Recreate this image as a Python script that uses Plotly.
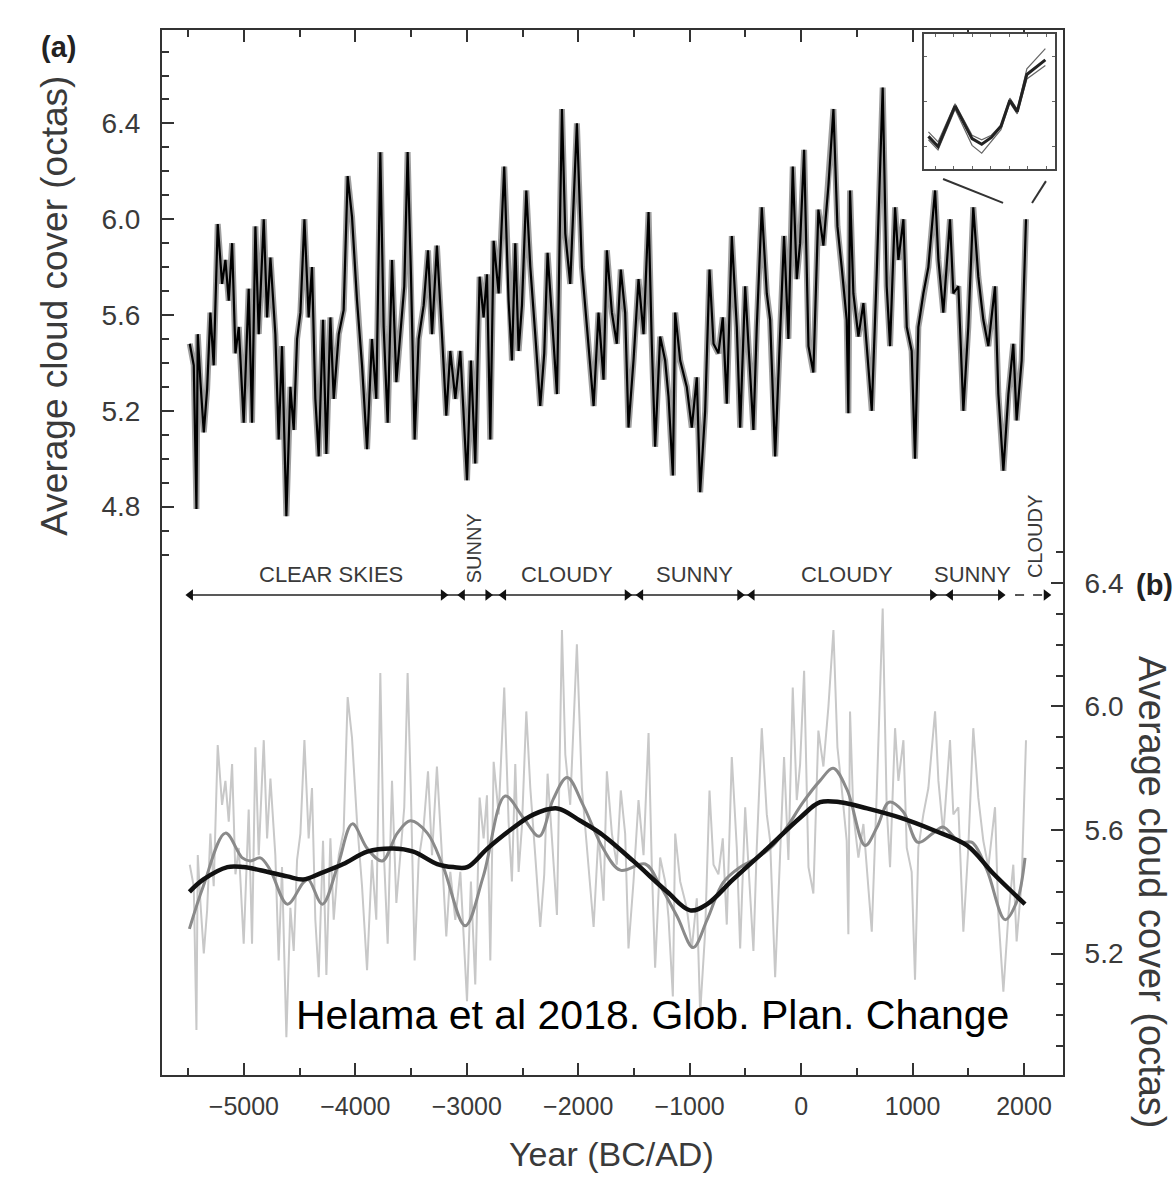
import plotly.graph_objects as go

# ---------------- data ----------------
years_top = [-5486, -5450, -5426, -5414, -5390, -5360, -5330, -5301, -5271, -5235, -5196, -5166, -5136, -5106,
             -5076, -5046, -5002, -4957, -4927, -4897, -4867, -4822, -4792, -4762, -4718, -4688, -4658, -4619,
             -4583, -4553, -4523, -4493, -4457, -4419, -4389, -4359, -4329, -4290, -4260, -4224, -4194, -4149,
             -4105, -4069, -4030, -3985, -3940, -3895, -3851, -3812, -3776, -3746, -3710, -3671, -3632, -3596,
             -3561, -3531, -3501, -3468, -3432, -3387, -3348, -3312, -3268, -3223, -3184, -3148, -3103, -3058,
             -3028, -2998, -2963, -2924, -2885, -2849, -2819, -2789, -2759, -2714, -2664, -2625, -2595, -2565,
             -2535, -2505, -2466, -2430, -2386, -2341, -2305, -2275, -2236, -2191, -2146, -2116, -2072, -2012,
             -1967, -1916, -1862, -1818,
             -1773, -1743, -1698, -1654, -1618, -1579, -1549, -1504, -1459, -1414, -1369, -1340, -1310, -1265,
             -1220, -1190, -1151, -1130, -1085, -1026, -981, -936, -906, -861, -822, -786, -742, -703, -667,
             -622, -577, -547, -502, -473, -428, -398, -353, -308, -278, -233, -189, -153, -114, -75, -39, -9,
             27, 66, 110, 155, 200, 245, 290, 326, 364, 409, 424, 439, 469, 514, 559, 589, 634, 678, 732, 768,
             798, 843, 873, 918, 948, 992, 1022, 1052, 1097, 1142, 1202, 1232, 1276, 1336, 1366, 1411, 1456,
             1500, 1545, 1590, 1635, 1680, 1740, 1770, 1815, 1860, 1904, 1934, 1979, 2018]
cloud_top = [5.48, 5.39, 4.79, 5.52, 5.32, 5.11, 5.29, 5.61, 5.39, 5.98, 5.73, 5.83, 5.66, 5.90,
             5.44, 5.55, 5.15, 5.71, 5.15, 5.97, 5.52, 6.00, 5.59, 5.84, 5.52, 5.08, 5.47, 4.76,
             5.30, 5.12, 5.50, 5.61, 6.00, 5.59, 5.80, 5.25, 5.01, 5.58, 5.02, 5.59, 5.25, 5.52,
             5.62, 6.18, 6.01, 5.66, 5.39, 5.04, 5.50, 5.25, 6.28, 5.55, 5.15, 5.83, 5.32, 5.52,
             5.72, 6.28, 5.77, 5.08, 5.50, 5.64, 5.87, 5.52, 5.89, 5.52, 5.18, 5.45, 5.25, 5.45,
             5.15, 4.91, 5.41, 4.98, 5.76, 5.59, 5.77, 5.08, 5.91, 5.69, 6.22, 5.66, 5.41, 5.90,
             5.45, 5.64, 6.12, 5.80, 5.52, 5.22, 5.44, 5.86, 5.59, 5.27, 6.46, 5.94, 5.73, 6.40,
             5.80, 5.52, 5.22, 5.61,
             5.33, 5.87, 5.61, 5.48, 5.79, 5.61, 5.13, 5.41, 5.75, 5.52, 6.03, 5.48, 5.05, 5.51,
             5.41, 5.26, 4.93, 5.61, 5.41, 5.30, 5.13, 5.34, 4.86, 5.20, 5.79, 5.48, 5.44, 5.59, 5.23,
             5.93, 5.55, 5.13, 5.72, 5.48, 5.12, 5.55, 6.05, 5.69, 5.58, 5.01, 5.51, 5.93, 5.50, 6.22, 5.75, 5.90,
             6.29, 5.47, 5.36, 6.04, 5.89, 6.14, 6.46, 5.97, 5.80, 5.58, 5.19, 6.12, 5.69, 5.51, 5.65, 5.48, 5.20, 5.77, 6.55, 5.72,
             5.47, 6.05, 5.83, 6.00, 5.55, 5.45, 5.00, 5.55, 5.69, 5.80, 6.12, 5.83, 5.61, 6.00, 5.69, 5.72, 5.20,
             5.55, 6.05, 5.76, 5.58, 5.47, 5.72, 5.27, 4.95, 5.27, 5.48, 5.16, 5.41, 6.00]

smooth_years = [-5489, -5363, -5166, -5014, -4942, -4852, -4763, -4610, -4467, -4422, -4296, -4162, -4027,
                -3893, -3758, -3623, -3507, -3354, -3211, -3014, -2852, -2655, -2493, -2350, -2224, -2099,
                -1955, -1776, -1623, -1399, -1265, -1112, -969, -843, -700, -547, -395, -251, -126, 18, 170,
                287, 413, 574, 682, 789, 915, 1049, 1184, 1274, 1426, 1534, 1668, 1830, 1937, 2009]
smooth_cloud = [5.28, 5.42, 5.59, 5.51, 5.50, 5.51, 5.47, 5.36, 5.43, 5.44, 5.36, 5.48, 5.62,
                5.54, 5.50, 5.59, 5.63, 5.59, 5.48, 5.29, 5.45, 5.71, 5.64, 5.58, 5.70, 5.77,
                5.68, 5.54, 5.47, 5.49, 5.42, 5.32, 5.22, 5.31, 5.43, 5.48, 5.51, 5.55, 5.61, 5.69, 5.76,
                5.80, 5.73, 5.55, 5.61, 5.69, 5.66, 5.56, 5.59, 5.61, 5.56, 5.56, 5.47, 5.31, 5.37, 5.51]

trend_years = [-5489, -5363, -5148, -5005, -4852, -4610, -4467, -4314, -4108, -3893, -3659, -3480, -3265,
               -3121, -2996, -2816, -2610, -2404, -2188, -1982, -1803, -1507, -1202, -996, -843, -610, -305,
               -9, 170, 350, 592, 888, 1184, 1489, 1722, 2009]
trend_cloud = [5.40, 5.44, 5.48, 5.48, 5.47, 5.45, 5.44, 5.46, 5.49, 5.53, 5.54, 5.53, 5.49,
               5.48, 5.48, 5.54, 5.60, 5.65, 5.67, 5.63, 5.59, 5.50, 5.40, 5.34, 5.36, 5.44, 5.54,
               5.64, 5.69, 5.69, 5.67, 5.64, 5.60, 5.55, 5.46, 5.36]

inset_years = [1841, 1854, 1877, 1900, 1913, 1926, 1939, 1951, 1961, 1974, 1999]
inset_mean = [5.29, 5.20, 5.56, 5.27, 5.22, 5.28, 5.38, 5.61, 5.51, 5.84, 5.97]
inset_upper = [5.33, 5.24, 5.58, 5.30, 5.26, 5.30, 5.39, 5.63, 5.53, 5.89, 6.07]
inset_lower = [5.26, 5.17, 5.53, 5.21, 5.14, 5.24, 5.35, 5.59, 5.49, 5.80, 5.92]

period_names = ["CLEAR SKIES", "SUNNY", "CLOUDY", "SUNNY", "CLOUDY", "SUNNY", "CLOUDY"]
period_start = [-5480, -3040, -2670, -1440, -440, 1340, 1920]
period_end = [-3210, -2810, -1560, -550, 1180, 1790, 2200]
period_label_x = [-4215, -2933, -2099, -960, 413, 1534, 2099]
period_vertical = [False, True, False, False, False, False, True]

x_major = [-5000, -4000, -3000, -2000, -1000, 0, 1000, 2000]
left_major = [4.8, 5.2, 5.6, 6.0, 6.4]
left_minor = [4.6, 4.7, 4.9, 5.0, 5.1, 5.3, 5.4, 5.5, 5.7, 5.8, 5.9, 6.1, 6.2, 6.3, 6.5, 6.6, 6.7]
right_major = [5.2, 5.6, 6.0, 6.4]
right_minor = [4.9, 5.0, 5.1, 5.3, 5.4, 5.5, 5.7, 5.8, 5.9, 6.1, 6.2, 6.3, 6.5]

# ---------------- styling constants ----------------
FONT = "Liberation Sans, Arial, Helvetica, sans-serif"
AXC = "#333333"
TXT = "#3a3a3a"
ARROW_Y = 4.431      # left-axis units, row of period arrows
LABEL_Y = 4.515
VLABEL_Y = {"SUNNY": 4.627, "CLOUDY": 4.673}

fig = go.Figure()

# (a) ensemble reconstruction
fig.add_trace(go.Scatter(x=years_top, y=cloud_top, mode="lines",
                         line=dict(color="rgba(0,0,0,0.38)", width=6), hoverinfo="skip",
                         xaxis="x", yaxis="y", showlegend=False))
fig.add_trace(go.Scatter(x=years_top, y=cloud_top, mode="lines",
                         line=dict(color="#000000", width=2.2),
                         xaxis="x", yaxis="y", showlegend=False))

# (b) raw series (same record, drawn in the lower panel)
fig.add_trace(go.Scatter(x=years_top, y=cloud_top, mode="lines",
                         line=dict(color="#c8c8c8", width=2),
                         xaxis="x", yaxis="y2", showlegend=False))
# (b) smoothed curves on the right axis
fig.add_trace(go.Scatter(x=smooth_years, y=smooth_cloud, mode="lines",
                         line=dict(color="#8a8a8a", width=3, shape="spline", smoothing=1.0),
                         xaxis="x", yaxis="y3", showlegend=False))
fig.add_trace(go.Scatter(x=trend_years, y=trend_cloud, mode="lines",
                         line=dict(color="#111111", width=4.5, shape="spline", smoothing=1.0),
                         xaxis="x", yaxis="y3", showlegend=False))

# period arrows row
solid_x = [period_start[0], period_end[-2]]
fig.add_trace(go.Scatter(x=solid_x, y=[ARROW_Y, ARROW_Y], mode="lines",
                         line=dict(color="#222222", width=1.6), xaxis="x", yaxis="y", showlegend=False))
fig.add_trace(go.Scatter(x=[period_start[-1], period_end[-1]], y=[ARROW_Y, ARROW_Y], mode="lines",
                         line=dict(color="#222222", width=1.6, dash="dash"), xaxis="x", yaxis="y",
                         showlegend=False))
fig.add_trace(go.Scatter(x=period_start[:-1], y=[ARROW_Y] * (len(period_start) - 1), mode="markers",
                         marker=dict(symbol="triangle-left", size=10, color="#111111"),
                         xaxis="x", yaxis="y", showlegend=False))
fig.add_trace(go.Scatter(x=period_end, y=[ARROW_Y] * len(period_end), mode="markers",
                         marker=dict(symbol="triangle-right", size=10, color="#111111"),
                         xaxis="x", yaxis="y", showlegend=False))

# inset
fig.add_trace(go.Scatter(x=inset_years, y=inset_upper, mode="lines",
                         line=dict(color="#666666", width=1.2), xaxis="x2", yaxis="y4", showlegend=False))
fig.add_trace(go.Scatter(x=inset_years, y=inset_lower, mode="lines",
                         line=dict(color="#666666", width=1.2), xaxis="x2", yaxis="y4", showlegend=False))
fig.add_trace(go.Scatter(x=inset_years, y=inset_mean, mode="lines",
                         line=dict(color="#222222", width=3), xaxis="x2", yaxis="y4", showlegend=False))

annotations = []
for name, lx, vert in zip(period_names, period_label_x, period_vertical):
    if vert:
        annotations.append(dict(x=lx, y=VLABEL_Y[name], xref="x", yref="y", text=name, showarrow=False,
                                xanchor="center", yanchor="middle",
                                textangle=-90, font=dict(size=20, color=TXT, family=FONT)))
    else:
        annotations.append(dict(x=lx, y=LABEL_Y, xref="x", yref="y", text=name, showarrow=False,
                                xanchor="center", yanchor="middle",
                                font=dict(size=22, color=TXT, family=FONT)))

annotations += [
    dict(x=-0.115, y=0.984, xref="paper", yref="paper", xanchor="center", yanchor="middle",
         text="<b>(a)</b>", showarrow=False, font=dict(size=29, color="#222222", family=FONT)),
    dict(x=1.079, y=0.469, xref="paper", yref="paper", xanchor="left", yanchor="middle",
         text="<b>(b)</b>", showarrow=False, font=dict(size=29, color="#222222", family=FONT)),
    dict(x=-0.119, y=0.736, xref="paper", yref="paper", xanchor="center", yanchor="middle",
         text="Average cloud cover (octas)", showarrow=False, textangle=-90,
         font=dict(size=37, color=TXT, family=FONT)),
    dict(x=1.0988, y=0.175, xref="paper", yref="paper", xanchor="center", yanchor="middle",
         text="Average cloud cover (octas)", showarrow=False, textangle=90,
         font=dict(size=38, color=TXT, family=FONT)),
    dict(x=0.4994, y=-0.0755, xref="paper", yref="paper", xanchor="center", yanchor="middle",
         text="Year (BC/AD)", showarrow=False, font=dict(size=34, color=TXT, family=FONT)),
    dict(x=0.544, y=0.0574, xref="paper", yref="paper", xanchor="center", yanchor="middle",
         text="Helama et al 2018. Glob. Plan. Change", showarrow=False,
         font=dict(size=41, color="#000000", family=FONT)),
]

shapes = [
    dict(type="line", xref="x", yref="y", x0=1274, y0=6.168, x1=1812, y1=6.068,
         line=dict(color="#333333", width=2)),
    dict(type="line", xref="x", yref="y", x0=2197, y0=6.159, x1=2072, y1=6.068,
         line=dict(color="#333333", width=2)),
]

fig.update_layout(
    width=1173, height=1177,
    margin=dict(l=162, r=110, t=30, b=102),
    paper_bgcolor="white", plot_bgcolor="white",
    font=dict(family=FONT, color=TXT),
    showlegend=False,
    annotations=annotations,
    shapes=shapes,
    xaxis=dict(range=[-5735, 2350], domain=[0, 1], anchor="y", showgrid=False, zeroline=False,
               showline=True, linecolor=AXC, linewidth=2, mirror="ticks",
               tickmode="array", tickvals=x_major, ticks="inside", ticklen=12, tickwidth=2, tickcolor=AXC,
               minor=dict(dtick=500, tick0=0, ticks="inside", ticklen=7, tickwidth=1.5, tickcolor=AXC),
               tickfont=dict(size=25, color=TXT), ticklabelstandoff=8),
    yaxis=dict(range=[2.427, 6.790], domain=[0, 1], anchor="x", showgrid=False, zeroline=False,
               showline=True, linecolor=AXC, linewidth=2,
               tickmode="array", tickvals=left_major, tickformat=".1f",
               ticks="inside", ticklen=12, tickwidth=2, tickcolor=AXC,
               minor=dict(tickmode="array", tickvals=left_minor, ticks="inside", ticklen=7,
                          tickwidth=1.5, tickcolor=AXC),
               tickfont=dict(size=28, color=TXT), ticklabelstandoff=14),
    yaxis2=dict(range=[4.602, 8.965], overlaying="y", anchor="x", visible=False,
                showgrid=False, zeroline=False),
    yaxis3=dict(range=[4.807, 8.190], overlaying="y", side="right", anchor="x", showgrid=False,
                zeroline=False, showline=True, linecolor=AXC, linewidth=2,
                tickmode="array", tickvals=right_major, tickformat=".1f",
                ticks="inside", ticklen=12, tickwidth=2, tickcolor=AXC,
                minor=dict(tickmode="array", tickvals=right_minor, ticks="inside", ticklen=7,
                           tickwidth=1.5, tickcolor=AXC),
                tickfont=dict(size=28, color=TXT), ticklabelstandoff=14),
    xaxis2=dict(range=[1835, 2012], domain=[0.8457, 0.9911], anchor="y4", showgrid=False, zeroline=False,
                showline=True, mirror="ticks", linecolor="#444444", linewidth=2,
                ticks="inside", ticklen=3, tickcolor="#666666", dtick=25, showticklabels=False),
    yaxis4=dict(range=[5.0, 6.2], domain=[0.8670, 0.9962], anchor="x2", showgrid=False, zeroline=False,
                showline=True, mirror="ticks", linecolor="#444444", linewidth=2,
                ticks="inside", ticklen=3, tickcolor="#666666", dtick=0.4, showticklabels=False),
)

fig.write_html("out.html")
